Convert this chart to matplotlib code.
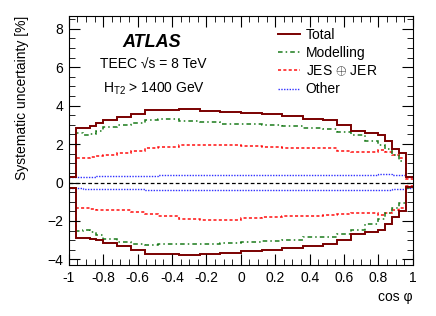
import matplotlib.pyplot as plt
from matplotlib.lines import Line2D
import numpy as np

plt.rcParams['font.family'] = ['Liberation Sans', 'DejaVu Sans']
plt.rcParams['mathtext.fontset'] = 'custom'
plt.rcParams['mathtext.rm'] = 'Liberation Sans'
plt.rcParams['mathtext.it'] = 'Liberation Sans:italic'

# bin edges in cos(phi)
edges = [-1, -0.96, -0.92, -0.88, -0.84, -0.80, -0.72, -0.64, -0.56, -0.48, -0.36, -0.24, -0.12,
         0, 0.12, 0.24, 0.36, 0.48, 0.56, 0.64, 0.72, 0.80, 0.84, 0.88, 0.92, 0.96, 1.0]

# upward / downward systematic uncertainties [%]
total_up = [0.3, 2.86, 2.86, 2.93, 3.09, 3.24, 3.42, 3.59, 3.77, 3.77, 3.80, 3.73, 3.68,
            3.63, 3.54, 3.45, 3.30, 3.24, 2.98, 2.67, 2.60, 2.47, 2.15, 1.75, 1.55, 0.3]
total_dn = [-0.3, -2.88, -2.88, -2.92, -3.0, -3.13, -3.32, -3.53, -3.70, -3.72, -3.79, -3.70, -3.65,
            -3.58, -3.49, -3.42, -3.32, -3.21, -2.97, -2.69, -2.60, -2.45, -2.14, -1.79, -1.5, -0.25]

model_up = [0.3, 2.58, 2.47, 2.55, 2.70, 2.88, 3.0, 3.1, 3.25, 3.28, 3.19, 3.16, 3.07,
            3.02, 2.98, 2.95, 2.82, 2.80, 2.65, 2.46, 2.15, 1.95, 1.72, 1.42, 1.1, 0.3]
model_dn = [-0.3, -2.54, -2.48, -2.60, -2.74, -2.92, -3.09, -3.18, -3.27, -3.20, -3.22, -3.18, -3.15,
            -3.09, -3.04, -2.97, -2.85, -2.82, -2.66, -2.48, -2.14, -1.88, -1.61, -1.35, -1.09, -0.3]

jes_up = [0.3, 1.28, 1.30, 1.35, 1.40, 1.45, 1.55, 1.65, 1.80, 1.85, 1.94, 1.94, 1.94,
          1.89, 1.84, 1.82, 1.78, 1.77, 1.63, 1.60, 1.58, 1.68, 1.60, 1.45, 1.30, 0.2]
jes_dn = [-0.3, -1.32, -1.32, -1.36, -1.41, -1.42, -1.45, -1.53, -1.63, -1.72, -1.88, -1.93, -1.93,
          -1.84, -1.79, -1.76, -1.72, -1.70, -1.62, -1.61, -1.60, -1.68, -1.60, -1.45, -1.32, -0.2]

other_up = [0.28, 0.29, 0.30, 0.31, 0.32, 0.33, 0.34, 0.35, 0.36, 0.37, 0.38, 0.38, 0.38,
            0.38, 0.38, 0.38, 0.38, 0.38, 0.39, 0.40, 0.41, 0.42, 0.42, 0.40, 0.38, 0.3]
other_dn = [-0.30, -0.31, -0.32, -0.33, -0.34, -0.35, -0.36, -0.36, -0.37, -0.37, -0.37, -0.37, -0.37,
            -0.37, -0.38, -0.38, -0.39, -0.40, -0.40, -0.40, -0.40, -0.39, -0.38, -0.36, -0.33, -0.3]

c_total = '#7a0000'
c_model = '#1a7a1a'
c_jes = '#ff1010'
c_other = '#3030ff'

fig = plt.figure(figsize=(4.36, 3.16), dpi=100)
ax = fig.add_axes([0.158, 0.161, 0.789, 0.788])

ax.axhline(0, color='black', lw=0.9, ls=(0, (3, 2)))

sty_total = dict(color=c_total, lw=1.4)
sty_model = dict(color=c_model, lw=1.1, ls=(0, (3, 2, 1, 2)))
sty_jes = dict(color=c_jes, lw=1.1, ls=(0, (2, 1.5)))
sty_other = dict(color=c_other, lw=1.0, ls=(0, (1, 1)))

for up, dn, sty in [(other_up, other_dn, sty_other), (jes_up, jes_dn, sty_jes),
                    (model_up, model_dn, sty_model), (total_up, total_dn, sty_total)]:
    ax.stairs(up, edges, baseline=None, **sty)
    ax.stairs(dn, edges, baseline=None, **sty)

ax.set_xlim(-1, 1)
ax.set_ylim(-4.3, 8.66)
ax.set_xticks(np.arange(-1, 1.01, 0.2))
ax.set_xticklabels(['-1', '-0.8', '-0.6', '-0.4', '-0.2', '0', '0.2', '0.4', '0.6', '0.8', '1'])
ax.set_xticks(np.arange(-1, 1.001, 0.05), minor=True)
ax.set_yticks([-4, -2, 0, 2, 4, 6, 8])
ax.set_yticks(np.arange(-4, 8.6, 0.5), minor=True)
ax.tick_params(which='both', direction='in', top=True, right=True, labelsize=10, pad=4)
ax.tick_params(which='major', length=8)
ax.tick_params(which='minor', length=4)

ax.set_ylabel('Systematic uncertainty [%]', fontsize=10, loc='top')
ax.yaxis.set_label_coords(-0.115, 1.0)
ax.set_xlabel('cos φ', fontsize=10, loc='right', labelpad=4)

ax.text(0.155, 0.875, 'ATLAS', transform=ax.transAxes, fontsize=13,
        fontweight='bold', style='italic')
ax.text(0.09, 0.788, 'TEEC √s = 8 TeV', transform=ax.transAxes, fontsize=10)
ax.text(0.1, 0.693, r'H$_{\mathrm{T2}}$ > 1400 GeV', transform=ax.transAxes, fontsize=10)

handles = [Line2D([], [], **sty_total), Line2D([], [], **sty_model),
           Line2D([], [], **sty_jes), Line2D([], [], **sty_other)]
ax.legend(handles, ['Total', 'Modelling', 'JES $\\oplus$ JER', 'Other'],
          loc='upper left', bbox_to_anchor=(0.6, 0.965), frameon=False, fontsize=10,
          handlelength=1.6, handletextpad=0.4, labelspacing=0.3, borderpad=0.2,
          borderaxespad=0)

fig.savefig('out.png', dpi=100)
